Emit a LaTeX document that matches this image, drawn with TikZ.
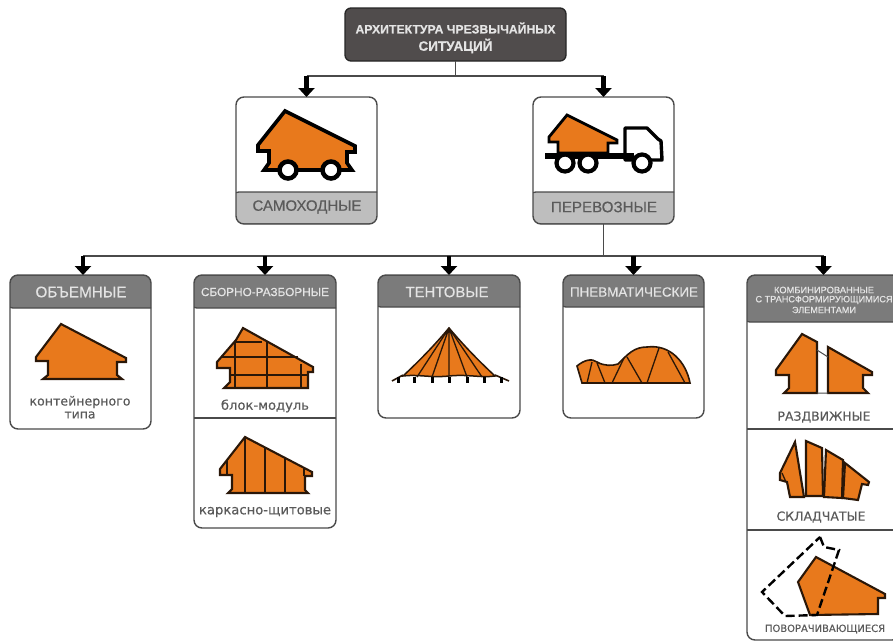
\documentclass[tikz,border=0pt]{standalone}
\usepackage{graphicx}
\usepackage{fontspec}
\setmainfont[FakeBold=0.35]{Liberation Sans}
\newfontfamily\gothic[FakeBold=0.25]{DejaVu Sans}
\usetikzlibrary{arrows.meta}
\definecolor{orng}{HTML}{E8791C}
\definecolor{edgeb}{HTML}{2A1708}
\definecolor{cardline}{HTML}{4A4A4A}
\definecolor{hdr}{HTML}{7B7B7B}
\definecolor{band}{HTML}{BEBEBE}
\definecolor{topfill}{HTML}{504C4C}
\definecolor{lbl}{HTML}{5A5A5A}
\definecolor{lighttxt}{HTML}{E4E4E4}
\newcommand{\fw}[2]{\resizebox{#1pt}{!}{#2}}
% name x1 y1 x2 y2 anchor signed-height colour
\newcommand{\mycard}[8]{%
  \pgfmathsetmacro\cw{#4-(#2)}\pgfmathsetmacro\ch{#5-(#3)}%
  \node[cardbox,minimum width=\cw pt,minimum height=\ch pt,
    path picture={\filldraw[fill=#8,draw=cardline,line width=1.3pt]
      (path picture bounding box.#6) ++(-5,0) rectangle ++(320,#7);}]
    (#1) at ({(#2+#4)/2},{(#3+#5)/2}) {};}
\tikzset{
  cardbox/.style={draw=cardline,line width=1.4pt,fill=white,rounded corners=8pt,inner sep=0pt,outer sep=0pt},
  topbox/.style={draw=black!85,line width=1.3pt,fill=topfill,rounded corners=6pt,inner sep=0pt,outer sep=0pt,minimum width=221pt,minimum height=53pt},
  wire/.style={draw=cardline,line width=1.4pt},
  bigarrow/.style={draw=black,line width=4.5pt,-{Triangle[width=16pt,length=9pt]},shorten >=0pt},
  divider/.style={draw=cardline,line width=1.3pt},
  house/.style={fill=orng,draw=edgeb,line width=2.1pt,line join=miter},
  inner/.style={draw=edgeb,line width=1.3pt},
  txt/.style={inner sep=0pt,outer sep=0pt,align=center},
  darktxt/.style={txt,text=lbl},
  lighttext/.style={txt,text=lighttxt},
  wheel/.style={fill=white,draw=black,line width=4.5pt},
}
\begin{document}
\begin{tikzpicture}[x=1pt,y=-1pt]
\useasboundingbox (0,0) rectangle (893,641);
\clip (0,0) rectangle (893,641);
\fill[white] (0,0) rectangle (893,641);

% ---- boxes
\node[topbox] (top) at (455.5,34.5) {};
\mycard{samo}{236}{97}{377}{224}{south west}{-32}{band}
\mycard{perev}{533}{97}{674}{224}{south west}{-32}{band}
\mycard{obem}{10}{275}{151}{429}{north west}{33}{hdr}
\mycard{sborn}{194}{275}{336}{528}{north west}{33}{hdr}
\mycard{tent}{378}{275}{520}{418}{north west}{32}{hdr}
\mycard{pnev}{563}{275}{704}{418}{north west}{32}{hdr}
\mycard{komb}{747}{275}{900}{640}{north west}{47}{hdr}

\coordinate (d1) at (0,418);
\coordinate (d2) at (0,429);
\coordinate (d3) at (0,530);
\draw[divider] (sborn.west |- d1) -- (sborn.east |- d1);
\draw[divider] (komb.west |- d2) -- (komb.east |- d2);
\draw[divider] (komb.west |- d3) -- (komb.east |- d3);

% ---- connectors
\coordinate (bus1) at (456,76);
\coordinate (bus2) at (604,256);
\coordinate (ob) at (83,256);
\draw[wire] (top.south) -- (top.south |- bus1);
\draw[wire] (samo.north |- bus1) -- (perev.north |- bus1);
\draw[wire] (perev.south) -- (perev.south |- bus2);
\draw[wire] (ob) -- (komb.north |- bus2);
\draw[bigarrow] (samo.north |- bus1) -- (samo.north);
\draw[bigarrow] (perev.north |- bus1) -- (perev.north);
\draw[bigarrow] (ob) -- (ob |- obem.north);
\draw[bigarrow] (sborn.north |- bus2) -- (sborn.north);
\draw[bigarrow] (tent.north |- bus2) -- (tent.north);
\draw[bigarrow] (pnev.north |- bus2) -- (pnev.north);
\draw[bigarrow] (komb.north |- bus2) -- (komb.north);

% ---- labels
\node[lighttext] (t1) at (455.5,28) {\fw{200}{\bfseries АРХИТЕКТУРА ЧРЕЗВЫЧАЙНЫХ}};
\node[lighttext] (t2) at (455.5,46) {\fw{74}{\bfseries СИТУАЦИЙ}};
\node[darktxt] (l1) at (307,207) {\fw{109}{САМОХОДНЫЕ}};
\node[darktxt] (l2) at (604,207) {\fw{106}{ПЕРЕВОЗНЫЕ}};
\node[lighttext] (l3) at (81,292) {\fw{91}{ОБЪЕМНЫЕ}};
\node[lighttext] (l4) at (265,292) {\fw{128}{СБОРНО-РАЗБОРНЫЕ}};
\node[lighttext] (l5) at (447,292) {\fw{83}{ТЕНТОВЫЕ}};
\node[lighttext] (l6) at (634,292) {\fw{128}{ПНЕВМАТИЧЕСКИЕ}};
\node[lighttext] (l7) at (824,290) {\fw{100}{КОМБИНИРОВАННЫЕ}};
\node[lighttext] (l8) at (824,300) {\fw{137}{С ТРАНСФОРМИРУЮЩИМИСЯ}};
\node[lighttext] (l9) at (824,310) {\fw{64}{ЭЛЕМЕНТАМИ}};
\node[darktxt] (l10) at (80,402) {\fw{101}{\gothic контейнерного}};
\node[darktxt] (l11) at (80,415) {\fw{31}{\gothic типа}};
\node[darktxt] (l12) at (265,406) {\fw{88}{\gothic блок-модуль}};
\node[darktxt] (l13) at (265,512) {\fw{132}{\gothic каркасно-щитовые}};
\node[darktxt] (l14) at (824,417) {\fw{93}{\gothic РАЗДВИЖНЫЕ}};
\node[darktxt] (l15) at (821,517) {\fw{89}{\gothic СКЛАДЧАТЫЕ}};
\node[darktxt] (l16) at (825,629) {\fw{120}{\gothic ПОВОРАЧИВАЮЩИЕСЯ}};

% ---- self-propelled house
\draw[fill=orng,draw=black,line width=3.6pt,line join=miter]
  (285,111) -- (355,146) -- (355,152) -- (347,152) -- (347,163) -- (352,170)
  -- (264,170) -- (269,163) -- (269,151) -- (258,151) -- (258,145) -- cycle;
\draw[wheel] (288,170) circle[radius=8.5pt];
\draw[wheel] (331,170) circle[radius=8.5pt];

% ---- truck
\draw[fill=white,draw=black,line width=3.4pt,line join=round]
  (625,157) -- (625,128) -- (647,128) -- (658,139) -- (661,141) -- (662,160) -- (625,160) -- cycle;
\draw[fill=orng,draw=black,line width=2.8pt]
  (567,115) -- (617,140) -- (617,143) -- (608,143) -- (608,153) -- (558,153)
  -- (558,142) -- (549,142) -- (549,137) -- cycle;
\fill[black] (545,153) rectangle (634,159);
\draw[wheel,line width=4.2pt] (565,163) circle[radius=8.5pt];
\draw[wheel,line width=4.2pt] (588,163) circle[radius=8.5pt];
\draw[wheel,line width=4.2pt] (642,163) circle[radius=8.5pt];

% ---- container house
\draw[house] (61,324) -- (126,358) -- (126,362) -- (117,362) -- (117,375) -- (122,379)
  -- (43,379) -- (48,375) -- (48,361) -- (36,361) -- (36,357) -- cycle;

% ---- block-module
\draw[house] (243,328) -- (313,367) -- (313,372) -- (308,372) -- (308,388)
  -- (224,388) -- (230,382) -- (230,368) -- (217,368) -- (217,362) -- (236,340) -- cycle;
\draw[inner,line width=2.5pt] (235,341) -- (235,388) (267,342) -- (267,388) (301,364) -- (301,388);
\draw[inner,line width=2.5pt] (235,342) -- (262,342) (222,357) -- (298,357) (230,375) -- (308,375);

% ---- frame-panel
\draw[house] (245,437) -- (312,472) -- (312,476) -- (305,476) -- (305,490) -- (308,493)
  -- (228,493) -- (232,489) -- (232,475) -- (220,475) -- (220,469) -- cycle;
\draw[inner,line width=2.2pt] (245,437) -- (245,493) (265,447) -- (265,493) (285,458) -- (285,493)
  (227,461) -- (227,475) (304,468) -- (304,476);

% ---- tent
\draw[fill=orng,draw=edgeb,line width=1.5pt]
  (449,328) .. controls (432,348) and (418,362) .. (403,376)
  .. controls (418,374) and (430,378) .. (449,376)
  .. controls (468,374) and (480,378) .. (495,376)
  .. controls (480,362) and (466,348) .. (449,328) -- cycle;
\draw[inner] (449,328) -- (417,377) (449,328) -- (432,377)
  (449,328) -- (449,376) (449,328) -- (467,377) (449,328) -- (482,377);
\draw[edgeb,line width=1.6pt] (392,381) -- (403,375) (509,381) -- (495,375);
\foreach \fx in {398,414,432,449,467,484,501}{
  \draw[black,line width=3pt] (\fx,377) -- (\fx,383);}

% ---- pneumatic
\draw[fill=orng,draw=edgeb,line width=1.6pt]
  (577,366) .. controls (584,360) and (592,358) .. (597,362)
  .. controls (604,366) and (612,366) .. (618,364)
  .. controls (628,354) and (634,347) .. (647,347)
  .. controls (670,344) and (686,362) .. (690,383)
  -- (582,383) -- cycle;
\draw[inner] (592,362) -- (587,383) (597,363) -- (605,383) (624,358) -- (612,383)
  (627,357) -- (642,383) (659,348) -- (647,383) (668,352) -- (685,383);

% ---- sliding
\draw[house] (802,334) -- (817,342) -- (817,393) -- (784,393) -- (789,388) -- (789,375)
  -- (776,375) -- (776,370) -- cycle;
\draw[house] (828,347) -- (872,372) -- (872,375) -- (863,375) -- (863,388) -- (868,393)
  -- (828,393) -- cycle;
\draw[cardline,line width=1pt] (817,350) -- (828,357) (817,393) -- (828,393);

% ---- folded
\draw[house] (795,442) -- (804,497) -- (790,497) -- (787,482) -- (780,480) -- (780,473) -- cycle;
\draw[house] (806,441) -- (822,448) -- (823,496) -- (806,496) -- cycle;
\draw[house] (826,450) -- (843,460) -- (842,498) -- (824,497) -- cycle;
\draw[house] (845,463) -- (869,482) -- (868,485) -- (862,484) -- (858,500) -- (843,498) -- cycle;
\draw[inner] (782,473) -- (786,482);

% ---- rotating
\draw[house] (816,557) -- (885,594) -- (885,598) -- (878,598) -- (878,614) -- (810,615)
  -- (798,582) -- cycle;
\draw[black,line width=2.4pt,dash pattern=on 9pt off 4pt]
  (820,537) -- (824,547) -- (839,550) -- (817,615) -- (785,616) -- (762,592) -- cycle;
\end{tikzpicture}
\end{document}
